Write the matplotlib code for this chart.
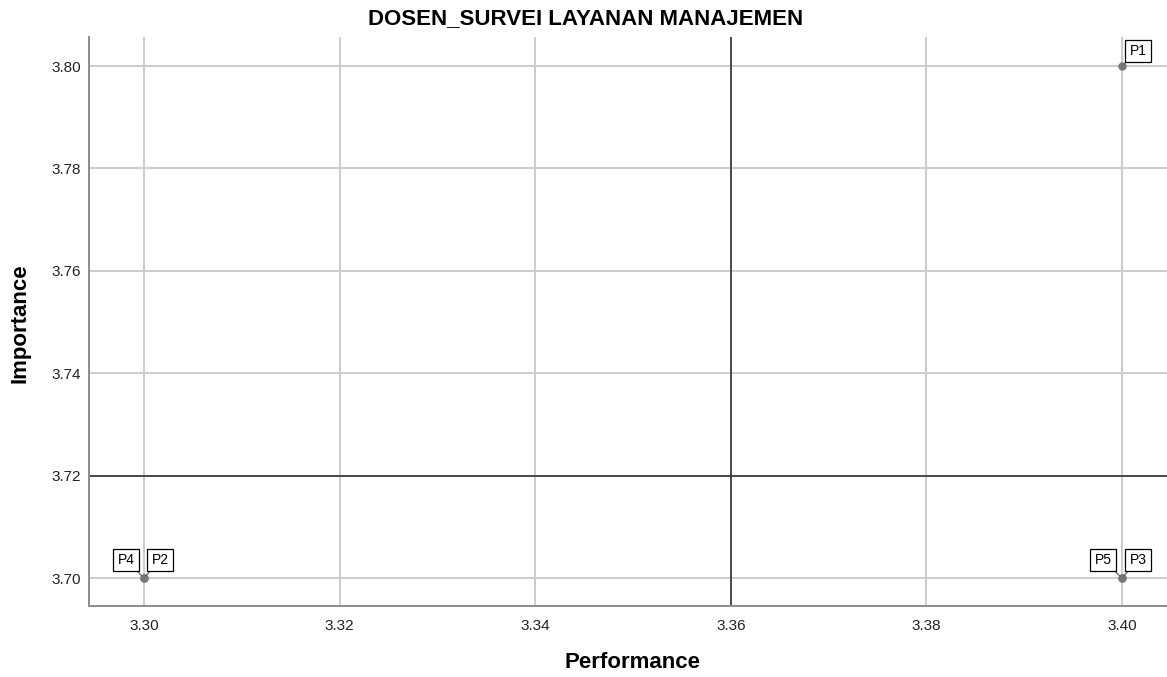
import matplotlib
matplotlib.use("Agg")
import matplotlib.pyplot as plt

plt.rcParams['font.family'] = ['Liberation Sans', 'DejaVu Sans']

# data
labels = ["P1", "P2", "P3", "P4", "P5"]
performance = [3.40, 3.30, 3.40, 3.30, 3.40]
importance = [3.80, 3.70, 3.70, 3.70, 3.70]
mean_perf = 3.36
mean_imp = 3.72
x_ticks = [3.30, 3.32, 3.34, 3.36, 3.38, 3.40]
y_ticks = [3.70, 3.72, 3.74, 3.76, 3.78, 3.80]

# label offsets in pixels (left/right of point)
offsets = {"P1": (16, 15), "P2": (16, 18), "P3": (16, 18),
           "P4": (-18, 18), "P5": (-19, 18)}

W, H = 1167, 677
fig = plt.figure(figsize=(W / 100, H / 100), dpi=100)
ax = fig.add_axes([89 / W, 1 - 606 / H, (W - 89) / W, (606 - 37) / H])

ax.set_xlim(3.30 - 55 / 9780, 3.40 + 45 / 9780)
ax.set_ylim(3.70 - 28 / 5120, 3.80 + 29 / 5120)
ax.set_xticks(x_ticks)
ax.set_yticks(y_ticks)
ax.set_xticklabels([f"{v:.2f}" for v in x_ticks])
ax.set_yticklabels([f"{v:.2f}" for v in y_ticks])
ax.tick_params(length=0, labelsize=11, colors="#222222")
ax.tick_params(axis="y", pad=6)
ax.tick_params(axis="x", pad=9)
ax.grid(True, color="#cccccc", linewidth=1.4)
ax.set_axisbelow(True)

for side in ["top", "right"]:
    ax.spines[side].set_visible(False)
for side in ["left", "bottom"]:
    ax.spines[side].set_color("#8c8c8c")
    ax.spines[side].set_linewidth(1.4)

ax.axvline(mean_perf, color="#333333", linewidth=1.2)
ax.axhline(mean_imp, color="#333333", linewidth=1.2)

ax.plot(performance, importance, "o", color="#777777", markersize=5, zorder=3)

for lab, x, y in zip(labels, performance, importance):
    dx, dy = offsets[lab]
    ax.annotate(lab, (x, y), xytext=(dx, dy), textcoords="offset pixels",
                ha="center", va="center", fontsize=10,
                bbox=dict(boxstyle="square,pad=0.3", fc="white", ec="black", lw=0.9),
                arrowprops=dict(arrowstyle="-", color="#555555", lw=0.8,
                                shrinkA=0, shrinkB=2),
                zorder=4)

fig.text(586 / W, 1 - 19 / H, "DOSEN_SURVEI LAYANAN MANAJEMEN",
         fontsize=16, fontweight="bold", ha="center", va="center")
fig.text(633 / W, 1 - 663 / H, "Performance",
         fontsize=16, fontweight="bold", ha="center", va="center")
fig.text(20 / W, 1 - 323 / H, "Importance", rotation=90,
         fontsize=16, fontweight="bold", ha="center", va="center")

fig.savefig("out.png", dpi=100)
